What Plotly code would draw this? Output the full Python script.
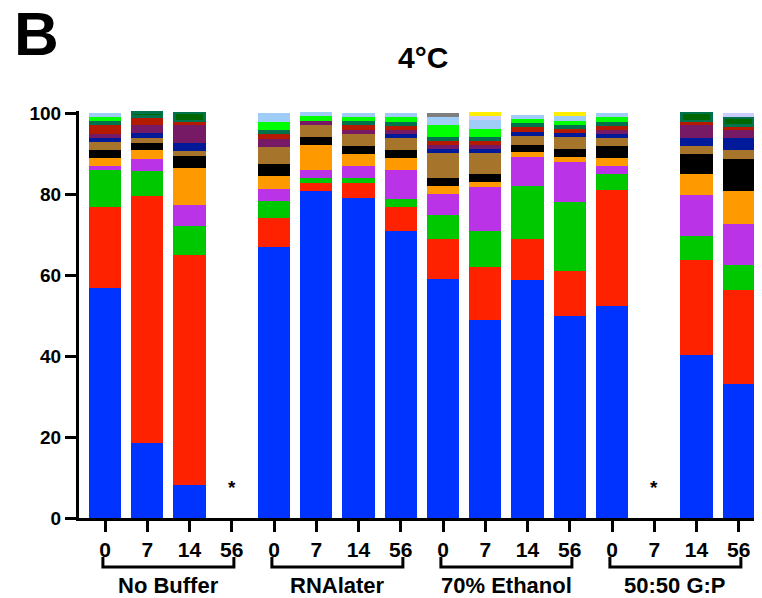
import plotly.graph_objects as go

# ---- data ----
groups = ["No Buffer", "RNAlater", "70% Ethanol", "50:50 G:P"]
days = ["0", "7", "14", "56"]
tick_labels = days * 4
x_idx = list(range(16))

# series (bottom -> top); one value per bar (16 bars)
blue        = [56.8, 18.4, 8.1, 0, 66.8, 80.8, 78.9, 70.9, 58.9, 48.8, 58.8, 49.9, 52.3, 0, 40.3, 33.1]
red         = [19.9, 61.1, 56.8, 0, 7.2, 2.0, 3.9, 6.0, 10.0, 13.1, 10.2, 11.1, 28.8, 0, 23.3, 23.3]
green       = [9.2, 6.1, 7.2, 0, 4.3, 1.1, 1.2, 1.9, 6.0, 9.0, 13.1, 17.0, 3.9, 0, 6.0, 6.1]
purple      = [1.0, 3.1, 5.1, 0, 2.9, 2.0, 2.9, 7.1, 5.1, 10.9, 7.1, 9.9, 1.9, 0, 10.2, 10.1]
orange      = [2.0, 2.1, 9.3, 0, 3.2, 6.1, 3.1, 3.0, 2.1, 1.1, 1.1, 1.2, 2.0, 0, 5.1, 8.1]
black       = [2.0, 1.9, 2.9, 0, 3.1, 2.0, 1.9, 2.0, 1.9, 2.0, 1.9, 2.0, 2.9, 0, 4.9, 8.0]
brown       = [1.9, 1.2, 1.2, 0, 4.1, 3.1, 3.0, 2.9, 6.1, 5.2, 2.2, 2.9, 2.0, 0, 2.1, 2.1]
dark_blue   = [1.1, 1.1, 2.1, 0, 0, 0, 0, 1.0, 1.0, 1.0, 1.0, 1.0, 1.0, 0, 2.0, 3.0]
dark_purple = [1.0, 2.1, 4.3, 0, 2.0, 1.0, 1.0, 1.0, 0.9, 0.9, 0, 0, 1.0, 0, 3.1, 2.0]
dark_red    = [2.1, 2.0, 1.0, 0, 1.2, 0, 1.1, 1.1, 1.0, 1.0, 1.1, 1.0, 1.1, 0, 1.0, 1.1]
teal        = [1.0, 0, 0, 0, 0.9, 0, 1.0, 1.0, 1.1, 1.1, 1.0, 1.1, 1.0, 0, 0, 0]
dark_green  = [0, 1.0, 2.0, 0, 0, 0, 0, 0, 0, 0, 0, 0, 0, 0, 2.0, 2.0]
bright_green= [1.1, 0, 0, 0, 2.0, 1.1, 1.1, 1.1, 3.0, 2.0, 1.1, 1.0, 1.1, 0, 0, 0]
light_blue  = [1.0, 0, 0, 0, 2.2, 1.0, 1.0, 1.0, 2.0, 2.1, 1.0, 1.1, 1.0, 0, 0, 0]
lavender    = [0, 0, 0, 0, 0, 0, 0, 0, 0, 1.1, 0, 0, 0, 0, 0, 1.0]
yellow      = [0, 0, 0, 0, 0, 0, 0, 0, 0, 1.0, 0, 1.0, 0, 0, 0, 0]
grey        = [0, 0, 0, 0, 0, 0, 0, 0, 1.0, 0, 0, 0, 0, 0, 0, 0]

missing_idx = [3, 13]   # bars marked with *
missing_y = 7.6

series = [
    ("blue", blue, "#0033FF"),
    ("red", red, "#FF2200"),
    ("green", green, "#00C800"),
    ("purple", purple, "#BB33E6"),
    ("orange", orange, "#FF9900"),
    ("black", black, "#000000"),
    ("brown", brown, "#A6742A"),
    ("dark blue", dark_blue, "#001A99"),
    ("dark purple", dark_purple, "#771A66"),
    ("dark red", dark_red, "#B31A00"),
    ("teal", teal, "#00734D"),
    ("dark green", dark_green, "#006600"),
    ("bright green", bright_green, "#00FF00"),
    ("light blue", light_blue, "#A0CCF8"),
    ("lavender", lavender, "#CCCCFF"),
    ("yellow", yellow, "#FFEE00"),
    ("grey", grey, "#7F7F7F"),
]

fig = go.Figure()
for name, vals, col in series:
    line = dict(width=0)
    bw = 0.76
    if name == "dark green":
        line = dict(width=2.5, color="#00734D")
        bw = 0.70
    yv = [v if v else None for v in vals]
    fig.add_trace(go.Bar(x=x_idx, y=yv, name=name, marker=dict(color=col, line=line),
                         width=bw, showlegend=False, hoverinfo="skip"))

FONT = "Liberation Sans, Arial, sans-serif"

# the page body has an 8px margin; figure is sized to fill the rest of the window
OFF = 8
W, H = 762 - OFF, 598 - OFF
L, T, B = 79 - OFF, 111 - OFF, H - (518 - OFF)
pw, ph = W - L, H - T - B

def px_to_paper_x(px):
    return (px - OFF - L) / pw

def px_to_paper_y(py):
    return ((518 - OFF) - (py - OFF)) / ph

fig.update_layout(
    barmode="stack",
    width=W, height=H,
    margin=dict(l=L, r=0, t=T, b=B, autoexpand=False),
    plot_bgcolor="white", paper_bgcolor="white",
    font=dict(family=FONT, color="black"),
    xaxis=dict(range=[-0.616, 15.55], tickmode="array", tickvals=x_idx, ticktext=tick_labels,
               showline=True, linewidth=3, linecolor="black", ticks="outside", ticklen=11,
               tickwidth=3, tickcolor="black", showgrid=False, zeroline=False,
               tickfont=dict(family=FONT, size=21, color="black", weight="bold")),
    yaxis=dict(range=[0, 100.5], tickvals=[0, 20, 40, 60, 80, 100],
               showline=True, linewidth=3, linecolor="black", ticks="outside", ticklen=11,
               tickwidth=3, tickcolor="black", showgrid=False, zeroline=False,
               tickfont=dict(family=FONT, size=19, color="black", weight="bold")),
)

# asterisks for missing bars
for i in missing_idx:
    fig.add_annotation(x=i, y=missing_y, text="<b>*</b>", showarrow=False, xref="x", yref="y",
                       font=dict(family=FONT, size=19, color="black"))

# group brackets and labels
for g, name in enumerate(groups):
    x0 = g * 4 - 0.05
    x1 = g * 4 + 3 + 0.05
    ya, yb = px_to_paper_y(557), px_to_paper_y(567)
    fig.add_shape(type="path",
                  path=f"M {x0},{ya} L {x0},{yb} L {x1},{yb} L {x1},{ya}",
                  xref="x", yref="paper", line=dict(color="black", width=3))
    fig.add_annotation(x=g * 4 + 1.5, y=px_to_paper_y(585), text=f"<b>{name}</b>",
                       showarrow=False, xref="x", yref="paper", yanchor="middle",
                       font=dict(family=FONT, size=22, color="black"))

# title and panel letter
fig.add_annotation(x=px_to_paper_x(423), y=px_to_paper_y(58), xref="paper", yref="paper",
                   text="<b>4°C</b>", showarrow=False, xanchor="center", yanchor="middle",
                   font=dict(family=FONT, size=30, color="black"))
fig.add_annotation(x=px_to_paper_x(36), y=px_to_paper_y(33), xref="paper", yref="paper",
                   text="<b>B</b>", showarrow=False, xanchor="center", yanchor="middle",
                   font=dict(family=FONT, size=62, color="black"))

fig.write_html("out.html")
